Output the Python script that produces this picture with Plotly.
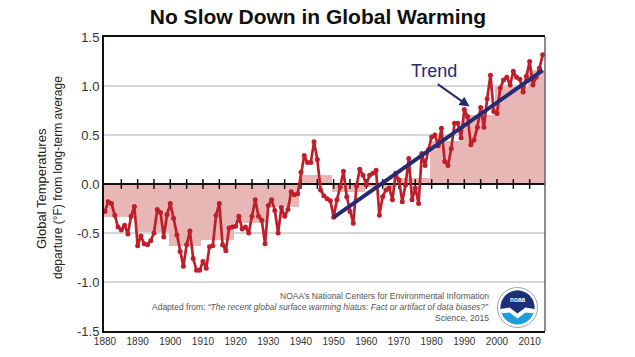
import math
import plotly.graph_objects as go

# ---------------- data ----------------
years = list(range(1880, 2015))
anomaly = [
    -0.28, -0.18, -0.20, -0.32, -0.44, -0.47, -0.42, -0.51, -0.33, -0.23,   # 1880s
    -0.63, -0.53, -0.61, -0.62, -0.58, -0.50, -0.26, -0.29, -0.54, -0.31,   # 1890s
    -0.20, -0.35, -0.52, -0.69, -0.84, -0.62, -0.48, -0.76, -0.88, -0.88,   # 1900s
    -0.79, -0.86, -0.64, -0.63, -0.32, -0.20, -0.62, -0.68, -0.45, -0.44,   # 1910s
    -0.43, -0.33, -0.46, -0.44, -0.50, -0.33, -0.16, -0.33, -0.37, -0.61,   # 1920s
    -0.22, -0.16, -0.27, -0.50, -0.24, -0.33, -0.26, -0.08, -0.11, -0.10,   # 1930s
    0.12, 0.29, 0.22, 0.22, 0.43, 0.25, -0.06, -0.12, -0.15, -0.17,         # 1940s
    -0.34, -0.16, -0.03, 0.13, -0.13, -0.28, -0.40, -0.02, 0.15, 0.09,      # 1950s
    -0.01, 0.09, 0.11, 0.14, -0.32, -0.13, -0.06, -0.04, -0.16, 0.11,       # 1960s
    0.04, -0.18, -0.01, 0.26, -0.16, -0.04, -0.20, 0.31, 0.19, 0.35,        # 1970s
    0.48, 0.50, 0.39, 0.57, 0.23, 0.19, 0.36, 0.62, 0.62, 0.47,             # 1980s
    0.76, 0.69, 0.40, 0.45, 0.58, 0.78, 0.58, 0.87, 1.11, 0.74,             # 1990s
    0.72, 0.98, 1.06, 1.09, 1.01, 1.15, 1.09, 1.07, 0.94, 1.10,             # 2000s
    1.25, 1.01, 1.09, 1.18, 1.32,                                           # 2010s
]
decades = [1880, 1890, 1900, 1910, 1920, 1930, 1940, 1950, 1960, 1970, 1980, 1990, 2000, 2010]
decade_means = [-0.34, -0.49, -0.63, -0.57, -0.40, -0.23, 0.09, -0.08, -0.03, 0.06, 0.44, 0.70, 0.99, 1.16]
trend_years = [1950, 2014]
trend_values = [-0.34, 1.16]
x_tick_vals = list(range(1880, 2011, 10))
minor_ticks = list(range(1885, 2011, 5))
y_tick_vals = [-1.5, -1.0, -0.5, 0.0, 0.5, 1.0, 1.5]
y_tick_text = ["-1.5", "-1.0", "-0.5", "0.0", "0.5", "1.0", "1.5"]

# ---------------- layout geometry ----------------
W, H = 635, 357
# plot area in page pixels: x 104..545, y 37..331
L, T = 104, 37
R = W - 545
B = H - 331
PW, PH = W - L - R, H - T - B
x_range = [1879.7, 2014.7]
y_range = [-1.5, 1.5]

FONT = "Liberation Sans, Arial, Helvetica, sans-serif"
RED = "#bf1f2b"
NAVY = "#272b74"
PINK = "#e9b6b6"


def px(x):
    """page pixel x -> paper x"""
    return (x - L) / PW


def py(y):
    """page pixel y -> paper y"""
    return (T + PH - y) / PH


fig = go.Figure()

fig.add_trace(go.Bar(
    x=[d + 4.5 for d in decades], y=decade_means, width=10,
    marker=dict(color=PINK, line=dict(width=0)), hoverinfo="skip"))

fig.add_trace(go.Scatter(
    x=x_range, y=[0, 0], mode="lines",
    line=dict(color="#111111", width=2), hoverinfo="skip"))

fig.add_trace(go.Scatter(
    x=minor_ticks, y=[0] * len(minor_ticks), mode="markers",
    marker=dict(symbol="line-ns", size=7, color="#111111",
                line=dict(width=1.5, color="#111111")),
    hoverinfo="skip"))

fig.add_trace(go.Scatter(
    x=years, y=anomaly, mode="lines+markers",
    line=dict(color=RED, width=2.7),
    marker=dict(size=5, color=RED)))

fig.add_trace(go.Scatter(
    x=trend_years, y=trend_values, mode="lines",
    line=dict(color=NAVY, width=4)))

# ---------------- NOAA logo (decoration) ----------------
cx, cy = 517.5, 307.5
shapes = []
shapes.append(dict(type="circle", xref="paper", yref="paper",
                   x0=px(cx - 20), x1=px(cx + 20), y0=py(cy + 20), y1=py(cy - 20),
                   fillcolor="white", line=dict(color="#9aa3ad", width=1)))
shapes.append(dict(type="circle", xref="paper", yref="paper",
                   x0=px(cx - 17), x1=px(cx + 17), y0=py(cy + 17), y1=py(cy - 17),
                   fillcolor="#1f9fd9", line=dict(width=0)))


def region(a0, a1, boundary, r=17):
    pts = []
    n = 30
    for i in range(n + 1):
        a = math.radians(a0 + (a1 - a0) * i / n)
        pts.append((cx + r * math.cos(a), cy - r * math.sin(a)))
    pts += boundary
    return "M " + " L ".join(f"{px(x):.5f},{py(y):.5f}" for x, y in pts) + " Z"


shapes.append(dict(type="path", xref="paper", yref="paper",
                   path=region(-20, 200, [(cx - 8, cy + 5), (cx, cy + 11), (cx + 8, cy + 5)]),
                   fillcolor="white", line=dict(width=0)))
shapes.append(dict(type="path", xref="paper", yref="paper",
                   path=region(-5, 185, [(cx - 8, cy + 0), (cx, cy + 6), (cx + 8, cy + 0)]),
                   fillcolor="#1c2f78", line=dict(width=0)))
# right frame edge
shapes.append(dict(type="line", xref="paper", yref="paper", x0=1, x1=1, y0=0, y1=1,
                   line=dict(color="#666666", width=1.5)))

annotations = [
    dict(x=1991.6, y=0.79, ax=1981.4, ay=1.03, xref="x", yref="y", axref="x", ayref="y",
         text="", showarrow=True, arrowhead=2, arrowsize=1, arrowwidth=2, arrowcolor=NAVY),
    dict(x=1980.6, y=1.15, xref="x", yref="y", text="Trend", showarrow=False,
         font=dict(family=FONT, size=18, color=NAVY)),
    dict(x=px(41), y=py(189), xref="paper", yref="paper", text="Global Temperatures",
         textangle=-90, showarrow=False, xanchor="center", yanchor="middle",
         font=dict(family=FONT, size=13, color="#222222")),
    dict(x=px(58), y=py(178), xref="paper", yref="paper",
         text="departure (°F) from long-term average",
         textangle=-90, showarrow=False, xanchor="center", yanchor="middle",
         font=dict(family=FONT, size=12, color="#222222")),
    dict(x=px(491), y=py(296), xref="paper", yref="paper", xanchor="right", yanchor="middle",
         text="NOAA’s National Centers for Environmental Information", showarrow=False,
         font=dict(family=FONT, size=8.5, color="#555555")),
    dict(x=px(491), y=py(307), xref="paper", yref="paper", xanchor="right", yanchor="middle",
         text="Adapted from: <i>“The recent global surface warming hiatus: Fact or artifact of data biases?”</i>",
         showarrow=False, font=dict(family=FONT, size=8.5, color="#555555")),
    dict(x=px(491), y=py(318), xref="paper", yref="paper", xanchor="right", yanchor="middle",
         text="Science, 2015", showarrow=False,
         font=dict(family=FONT, size=8.5, color="#555555")),
    dict(x=px(cx), y=py(cy - 8), xref="paper", yref="paper", xanchor="center", yanchor="middle",
         text="<b>noaa</b>", showarrow=False,
         font=dict(family=FONT, size=6.5, color="white")),
]

fig.update_layout(
    width=W, height=H,
    margin=dict(l=L, r=R, t=T, b=B, pad=0, autoexpand=False),
    paper_bgcolor="white", plot_bgcolor="white",
    showlegend=False,
    bargap=0,
    title=dict(text="<b>No Slow Down in Global Warming</b>", x=318 / W, xanchor="center",
               y=1 - 17 / H, yanchor="middle",
               font=dict(family=FONT, size=21, color="#111111")),
    xaxis=dict(range=x_range, tickvals=x_tick_vals, ticks="", showgrid=False, zeroline=False,
               showline=True, mirror=True, linecolor="#111111", linewidth=2,
               tickfont=dict(family=FONT, size=10, color="#333333")),
    yaxis=dict(range=y_range, tickvals=y_tick_vals, ticktext=y_tick_text, ticks="",
               showgrid=True, gridcolor="#d6d6d6", gridwidth=1.5, zeroline=False,
               showline=True, mirror=False, linecolor="#111111", linewidth=2,
               tickfont=dict(family=FONT, size=13, color="#333333")),
    shapes=shapes,
    annotations=annotations,
)

fig.write_html("out.html", config={"displayModeBar": False},
               post_script="document.body.style.margin='0';")
